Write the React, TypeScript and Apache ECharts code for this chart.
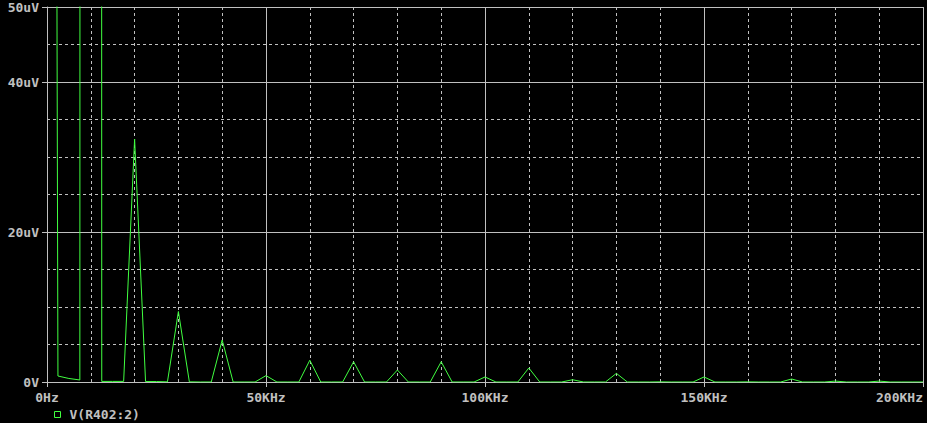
import React, { useEffect, useRef } from "react";
import * as echarts from "echarts";

// Frequency bins of the FFT (kHz)
const freqKHz = [
  0, 2.5, 5, 7.5, 10, 12.5, 15, 17.5, 20, 22.5, 25, 27.5, 30, 32.5, 35, 37.5,
  40, 42.5, 45, 47.5, 50, 52.5, 55, 57.5, 60, 62.5, 65, 67.5, 70, 72.5, 75, 77.5,
  80, 82.5, 85, 87.5, 90, 92.5, 95, 97.5, 100, 102.5, 105, 107.5, 110, 112.5, 115, 117.5,
  120, 122.5, 125, 127.5, 130, 132.5, 135, 137.5, 140, 142.5, 145, 147.5, 150, 152.5, 155, 157.5,
  160, 162.5, 165, 167.5, 170, 172.5, 175, 177.5, 180, 182.5, 185, 187.5, 190, 192.5, 195, 197.5,
  200,
];

// V(R402:2) magnitude (uV) at each bin
const vR402uV = [
  550, 0.8, 0.47, 0.27, 6000, 0.08, 0.08, 0.08, 32.4, 0.06, 0.06, 0.02, 9.4, 0.02, 0, 0,
  5.6, 0, 0, 0, 0.85, 0, 0, 0, 2.9, 0, 0, 0, 2.7, 0, 0, 0,
  1.6, 0, 0, 0, 2.7, 0, 0, 0, 0.67, 0, 0, 0, 1.87, 0, 0, 0,
  0.3, 0, 0, 0, 1.15, 0, 0, 0, 0.02, 0, 0, 0, 0.67, 0, 0, 0,
  0.02, 0, 0, 0, 0.4, 0, 0, 0, 0.12, 0, 0, 0, 0.12, 0, 0, 0,
  0,
];

const seriesName = "V(R402:2)";

const xMajorTicks = [0, 50, 100, 150, 200];
const xMajorLabels = ["0Hz", "50KHz", "100KHz", "150KHz", "200KHz"];
const yMajorTicks = [0, 20, 40, 50];
const yMajorLabels = ["0V", "20uV", "40uV", "50uV"];

const GRAY = "#c0c0c0";
const GREEN = "#40ff40";
const FONT = "'DejaVu Sans Mono', monospace";

export default function App() {
  const ref = useRef<HTMLDivElement>(null);

  useEffect(() => {
    if (!ref.current) return;
    const chart = echarts.init(ref.current, undefined, { renderer: "svg" });
    const data = freqKHz.map((f, i) => [f, vR402uV[i]]);

    const labelStyle = {
      color: GRAY,
      fontFamily: FONT,
      fontSize: 13,
      fontWeight: "bold" as const,
    };

    chart.setOption({
      animation: false,
      backgroundColor: "#000000",
      grid: { left: 47, right: 4, top: 7, bottom: 41, containLabel: false },
      legend: {
        data: [
          {
            name: seriesName,
            icon: "rect",
            itemStyle: { color: "transparent", borderColor: GREEN, borderWidth: 1 },
          },
        ],
        left: 49,
        top: 403,
        itemWidth: 6,
        itemHeight: 6,
        textStyle: { ...labelStyle, padding: [0, 0, 0, 4] },
      },
      xAxis: [
        {
          type: "value",
          min: 0,
          max: 200,
          interval: 10,
          position: "bottom",
          axisLine: { show: true, lineStyle: { color: GRAY, width: 1 } },
          axisTick: { show: false },
          axisLabel: { show: false },
          splitLine: { show: true, lineStyle: { color: GRAY, type: [3, 3], width: 1 } },
        },
        {
          type: "value",
          min: 0,
          max: 200,
          interval: 50,
          position: "bottom",
          axisLine: { show: false },
          axisTick: { show: true, length: 5, lineStyle: { color: GRAY } },
          axisLabel: {
            show: true,
            margin: 9,
            alignMaxLabel: "right",
            ...labelStyle,
            formatter: (v: number) => {
              const i = xMajorTicks.indexOf(v);
              return i >= 0 ? xMajorLabels[i] : "";
            },
          },
          splitLine: { show: true, lineStyle: { color: GRAY, type: "solid", width: 1 } },
        },
      ],
      yAxis: [
        {
          type: "value",
          min: 0,
          max: 50,
          interval: 5,
          position: "left",
          axisLine: { show: true, lineStyle: { color: GRAY, width: 1 } },
          axisTick: { show: false },
          axisLabel: { show: false },
          splitLine: { show: true, lineStyle: { color: GRAY, type: [3, 3], width: 1 } },
        },
        {
          type: "value",
          min: 0,
          max: 50,
          interval: 20,
          position: "left",
          axisLine: { show: false },
          axisTick: { show: true, length: 5, lineStyle: { color: GRAY } },
          axisLabel: {
            show: true,
            margin: 8,
            ...labelStyle,
            formatter: (v: number) => {
              const i = yMajorTicks.indexOf(v);
              return i >= 0 ? yMajorLabels[i] : "";
            },
          },
          splitLine: { show: true, lineStyle: { color: GRAY, type: "solid", width: 1 } },
        },
      ],
      series: [
        {
          name: seriesName,
          type: "line",
          xAxisIndex: 0,
          yAxisIndex: 0,
          data,
          symbol: "none",
          clip: true,
          color: GREEN,
          lineStyle: { color: GREEN, width: 1 },
          z: 10,
        },
      ],
    });

    return () => chart.dispose();
  }, []);

  return (
    <div
      ref={ref}
      style={{ position: "fixed", left: 0, top: 0, width: 927, height: 423 }}
    />
  );
}
